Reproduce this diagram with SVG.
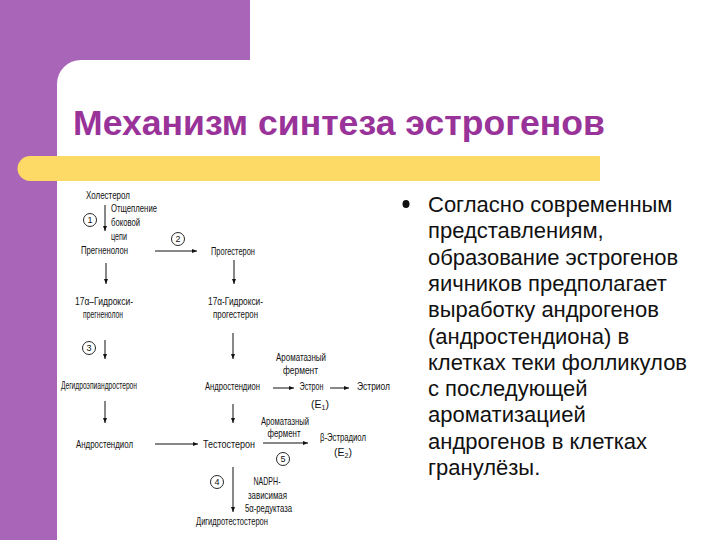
<svg xmlns="http://www.w3.org/2000/svg" width="720" height="540" viewBox="0 0 720 540">
<defs>
<style>
.s{font-family:"Liberation Sans Narrow","Liberation Sans",Arial,sans-serif;font-size:10.5px;fill:#111;}
.m{text-anchor:middle;}
.b{font-family:"Liberation Sans",Arial,sans-serif;font-size:22px;fill:#111;}
.ln{stroke:#111;stroke-width:1;fill:none;}
.c{fill:none;stroke:#111;stroke-width:0.9;}
.n{font-family:"Liberation Sans",Arial,sans-serif;font-size:9px;fill:#111;text-anchor:middle;}
</style>
<marker id="ah" markerWidth="6" markerHeight="6" refX="5" refY="3" orient="auto" markerUnits="userSpaceOnUse">
<path d="M0,1 L5,3 L0,5 Z" fill="#111"/>
</marker>
</defs>
<rect x="0" y="0" width="720" height="540" fill="#ffffff"/>
<rect x="0" y="0" width="250" height="100" fill="#A966B9"/>
<rect x="0" y="0" width="57" height="540" fill="#A966B9"/>
<rect x="57" y="60" width="700" height="520" rx="24" ry="24" fill="#ffffff"/>
<text x="73" y="135" font-family="Liberation Sans,Arial,sans-serif" font-size="35" font-weight="bold" fill="#993399" textLength="532" lengthAdjust="spacingAndGlyphs">Механизм синтеза эстрогенов</text>
<path d="M30,156 H600 V181 H30 A12.5,12.5 0 0 1 30,156 Z" fill="#FDD965"/>

<g id="connectors">
<line class="ln" x1="105" y1="205" x2="105" y2="231" marker-end="url(#ah)"/>
<line class="ln" x1="155" y1="251" x2="197" y2="251" marker-end="url(#ah)"/>
<line class="ln" x1="106" y1="263" x2="106" y2="284" marker-end="url(#ah)"/>
<line class="ln" x1="234" y1="260" x2="234" y2="284" marker-end="url(#ah)"/>
<line class="ln" x1="105" y1="340" x2="105" y2="359" marker-end="url(#ah)"/>
<line class="ln" x1="233" y1="333" x2="233" y2="359" marker-end="url(#ah)"/>
<line class="ln" x1="273" y1="388" x2="294" y2="388" marker-end="url(#ah)"/>
<line class="ln" x1="330" y1="388" x2="349" y2="388" marker-end="url(#ah)"/>
<line class="ln" x1="105" y1="401" x2="105" y2="423" marker-end="url(#ah)"/>
<line class="ln" x1="233" y1="404" x2="233" y2="423" marker-end="url(#ah)"/>
<line class="ln" x1="155" y1="444" x2="198" y2="444" marker-end="url(#ah)"/>
<line class="ln" x1="263" y1="443" x2="308" y2="443" marker-end="url(#ah)"/>
<line class="ln" x1="233" y1="467" x2="233" y2="512" marker-end="url(#ah)"/>
</g>

<g id="step-labels">
<g id="c1"><circle class="c" cx="90" cy="220" r="6.5"/><text class="n" x="90" y="223.3">1</text></g>
<g id="c2"><circle class="c" cx="178" cy="239" r="6.5"/><text class="n" x="178" y="242.3">2</text></g>
<g id="c3"><circle class="c" cx="89" cy="348" r="6.5"/><text class="n" x="89" y="351.3">3</text></g>
<g id="c4"><circle class="c" cx="217" cy="482" r="6.5"/><text class="n" x="217" y="485.3">4</text></g>
<g id="c5"><circle class="c" cx="283" cy="459" r="6.5"/><text class="n" x="283" y="462.3">5</text></g>
<text class="s" x="111" y="211.5" textLength="46" lengthAdjust="spacingAndGlyphs">Отщепление</text>
<text class="s" x="111" y="225.5" textLength="29" lengthAdjust="spacingAndGlyphs">боковой</text>
<text class="s" x="111" y="239.5" textLength="16" lengthAdjust="spacingAndGlyphs">цепи</text>
<text class="s m" x="301" y="360.5" textLength="50" lengthAdjust="spacingAndGlyphs">Ароматазный</text>
<text class="s m" x="300.5" y="373.5" textLength="35" lengthAdjust="spacingAndGlyphs">фермент</text>
<text class="s m" x="285" y="425" textLength="48" lengthAdjust="spacingAndGlyphs">Ароматазный</text>
<text class="s m" x="284" y="437" textLength="33" lengthAdjust="spacingAndGlyphs">фермент</text>
<text class="s m" x="267" y="485" textLength="27" lengthAdjust="spacingAndGlyphs">NADPH-</text>
<text class="s m" x="267.5" y="498.5" textLength="39" lengthAdjust="spacingAndGlyphs">зависимая</text>
<text class="s m" x="268.5" y="511.5" textLength="47" lengthAdjust="spacingAndGlyphs">5α-редуктаза</text>
</g>

<g id="cholesterol"><text class="s m" x="108" y="198.5" textLength="44" lengthAdjust="spacingAndGlyphs">Холестерол</text></g>
<g id="pregnenolone"><text class="s m" x="104.5" y="253.5" textLength="47" lengthAdjust="spacingAndGlyphs">Прегненолон</text></g>
<g id="progesterone"><text class="s m" x="233" y="254.5" textLength="44" lengthAdjust="spacingAndGlyphs">Прогестерон</text></g>
<g id="oh-pregnenolone">
<text class="s m" x="104" y="305" textLength="58" lengthAdjust="spacingAndGlyphs">17α–Гидрокси-</text>
<text class="s m" x="103" y="318" textLength="40" lengthAdjust="spacingAndGlyphs">прегненолон</text>
</g>
<g id="oh-progesterone">
<text class="s m" x="235.5" y="305" textLength="55" lengthAdjust="spacingAndGlyphs">17α-Гидрокси-</text>
<text class="s m" x="235.5" y="317.5" textLength="45" lengthAdjust="spacingAndGlyphs">прогестерон</text>
</g>
<g id="dhea"><text class="s m" x="99" y="389" textLength="76" lengthAdjust="spacingAndGlyphs">Дегидроэпиандростерон</text></g>
<g id="androstenedione"><text class="s m" x="232.5" y="389.5" textLength="55" lengthAdjust="spacingAndGlyphs">Андростендион</text></g>
<g id="estrone">
<text class="s m" x="311.5" y="389.5" textLength="24" lengthAdjust="spacingAndGlyphs">Эстрон</text>
<text class="s m" x="320" y="408">(E<tspan font-size="7" dy="2">1</tspan><tspan dy="-2">)</tspan></text>
</g>
<g id="estriol"><text class="s m" x="373.5" y="389.5" textLength="33" lengthAdjust="spacingAndGlyphs">Эстриол</text></g>
<g id="androstenediol"><text class="s m" x="104.5" y="447.5" textLength="57" lengthAdjust="spacingAndGlyphs">Андростендиол</text></g>
<g id="testosterone"><text class="s m" x="229" y="448" textLength="52" lengthAdjust="spacingAndGlyphs">Тестостерон</text></g>
<g id="estradiol">
<text class="s m" x="343" y="441" textLength="46" lengthAdjust="spacingAndGlyphs">β-Эстрадиол</text>
<text class="s m" x="343" y="456">(E<tspan font-size="7" dy="2">2</tspan><tspan dy="-2">)</tspan></text>
</g>
<g id="dht"><text class="s m" x="232" y="525" textLength="72" lengthAdjust="spacingAndGlyphs">Дигидротестостерон</text></g>

<g id="bullet-text">
<ellipse cx="406" cy="204" rx="3.5" ry="4" fill="#111"/>
<text class="b" x="428" y="212">Согласно современным</text>
<text class="b" x="428" y="238.3">представлениям,</text>
<text class="b" x="428" y="264.6">образование эстрогенов</text>
<text class="b" x="428" y="290.9">яичников предполагает</text>
<text class="b" x="428" y="317.2">выработку андрогенов</text>
<text class="b" x="428" y="343.5">(андростендиона) в</text>
<text class="b" x="428" y="369.8">клетках теки фолликулов</text>
<text class="b" x="428" y="396.1">с последующей</text>
<text class="b" x="428" y="422.4">ароматизацией</text>
<text class="b" x="428" y="448.7">андрогенов в клетках</text>
<text class="b" x="428" y="475">гранулёзы.</text>
</g>
</svg>
